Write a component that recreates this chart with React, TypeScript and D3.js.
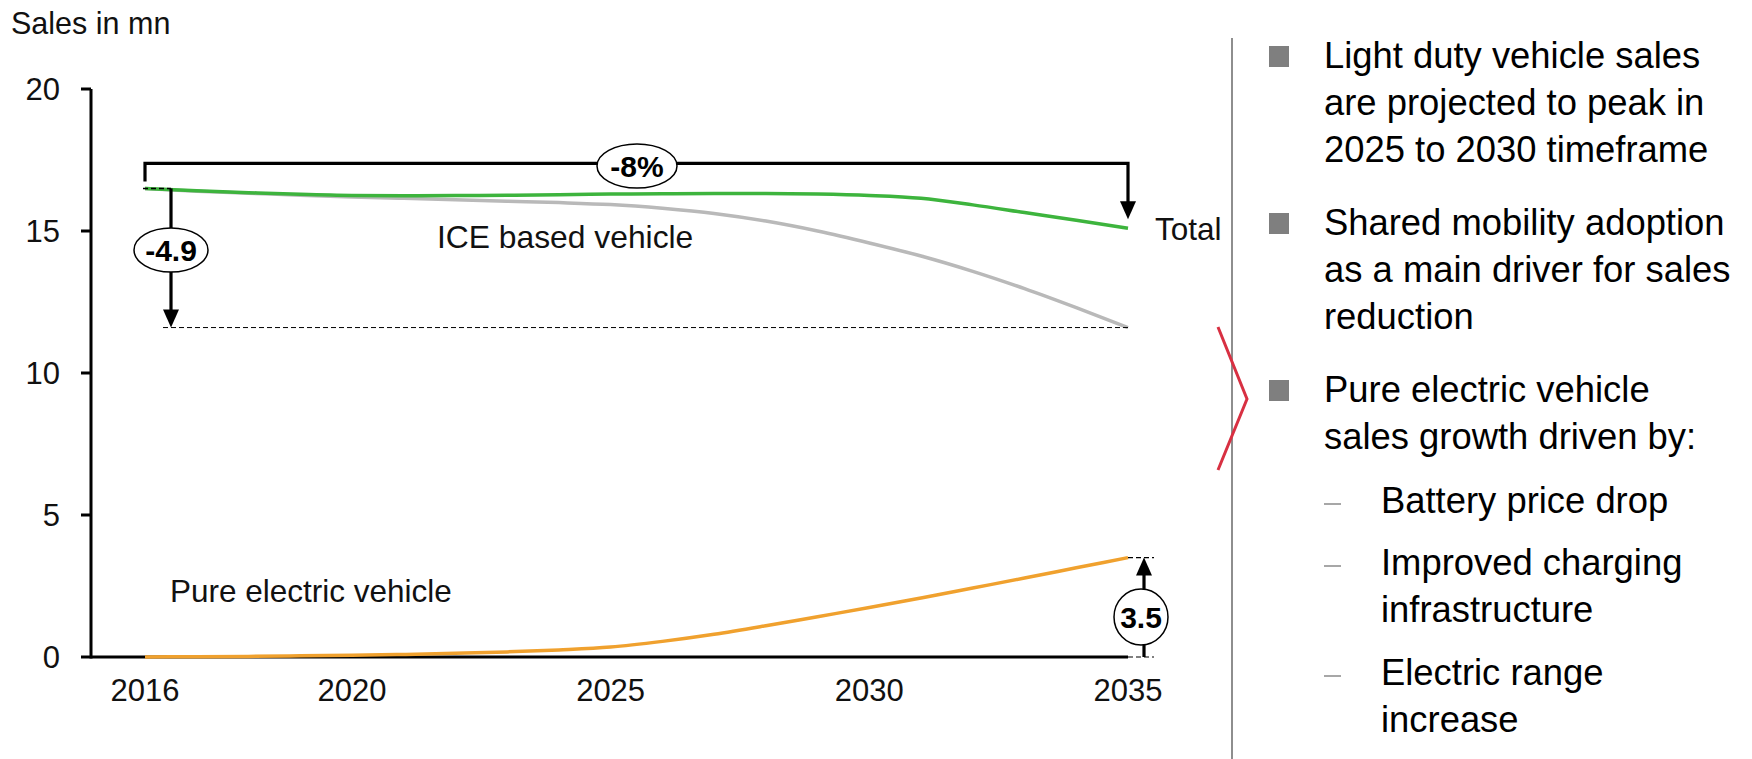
import React from "react";
import * as d3 from "d3";

// ---- data ----
const years = [2016, 2017, 2018, 2019, 2020, 2021, 2022, 2023, 2024, 2025, 2026, 2027, 2028, 2029, 2030, 2031, 2032, 2033, 2034, 2035];
const totalSales = [16.5, 16.42, 16.35, 16.29, 16.25, 16.24, 16.25, 16.26, 16.28, 16.3, 16.31, 16.32, 16.32, 16.3, 16.25, 16.15, 15.92, 15.65, 15.38, 15.1];
const iceSales = [16.5, 16.4, 16.33, 16.26, 16.2, 16.15, 16.1, 16.05, 16.0, 15.93, 15.8, 15.62, 15.35, 15.0, 14.58, 14.12, 13.58, 12.97, 12.3, 11.6];
const bevSales = [0, 0.01, 0.02, 0.04, 0.06, 0.09, 0.13, 0.18, 0.25, 0.35, 0.55, 0.8, 1.1, 1.42, 1.74, 2.08, 2.43, 2.78, 3.14, 3.5];

const xTickYears = [2016, 2020, 2025, 2030, 2035];
const yTickValues = [0, 5, 10, 15, 20];

const yAxisTitle = "Sales in mn";
const seriesLabels = ["Total", "ICE based vehicle", "Pure electric vehicle"];
const annotationLabels = ["-8%", "-4.9", "3.5"];

const bullets = [
  ["Light duty vehicle sales", "are projected to peak in", "2025 to 2030 timeframe"],
  ["Shared mobility adoption", "as a main driver for sales", "reduction"],
  ["Pure electric vehicle", "sales growth driven by:"],
];
const subBullets = [
  ["Battery price drop"],
  ["Improved charging", "infrastructure"],
  ["Electric range", "increase"],
];

const FONT = "'Liberation Sans', Arial, Helvetica, sans-serif";
const GREEN = "#3db43d";
const GRAY = "#b9b9b9";
const ORANGE = "#f0a12e";

export default function App() {
  const x = d3.scaleLinear().domain([2016, 2035]).range([145, 1128]);
  const y = d3.scaleLinear().domain([0, 20]).range([657, 89]);
  const axisX = 91;

  const mk = (vals: number[]) =>
    d3
      .line<number>()
      .x((_, i) => x(years[i]))
      .y((d) => y(d))
      .curve(d3.curveMonotoneX)(vals) as string;

  const last = years.length - 1;
  const x0 = x(years[0]);
  const xN = x(years[last]);

  // -8% bracket
  const bracketY = y(totalSales[0]) - 25;
  const totalTip = y(totalSales[last]) - 9;
  // -4.9 arrow
  const dropX = x0 + 26;
  const dropTop = y(iceSales[0]);
  const dropTip = y(iceSales[last]);
  // 3.5 arrow
  const bevX = xN + 16;
  const bevTip = y(bevSales[last]);
  const bevBase = y(0);

  const arrowDown = (cx: number, tipY: number) =>
    `M${cx - 8},${tipY - 18} L${cx + 8},${tipY - 18} L${cx},${tipY} Z`;
  const arrowUp = (cx: number, tipY: number) =>
    `M${cx - 8},${tipY + 18} L${cx + 8},${tipY + 18} L${cx},${tipY} Z`;

  const bulletTop = [68, 235, 402];
  const lineH = 47;
  const subTop = [513, 575, 685];

  return (
    <svg
      width={1752}
      height={759}
      style={{ position: "absolute", left: 0, top: 0, background: "#fff" }}
      fontFamily={FONT}
    >
      <rect x={0} y={0} width={1752} height={759} fill="#fff" />

      {/* y axis title */}
      <text x={11} y={34} fontSize={30.5} fill="#111">
        {yAxisTitle}
      </text>

      {/* y axis */}
      <line x1={axisX} x2={axisX} y1={y(20)} y2={y(0) + 1.5} stroke="#000" strokeWidth={3} />
      {yTickValues.map((v) => (
        <g key={v}>
          <line x1={axisX - 10} x2={axisX} y1={y(v)} y2={y(v)} stroke="#000" strokeWidth={3} />
          <text x={60} y={y(v)} dy="0.36em" textAnchor="end" fontSize={31} fill="#111">
            {v}
          </text>
        </g>
      ))}
      {/* x axis */}
      <line x1={axisX} x2={xN} y1={y(0)} y2={y(0)} stroke="#000" strokeWidth={3} />
      {xTickYears.map((yr) => (
        <text key={yr} x={x(yr)} y={701} textAnchor="middle" fontSize={31} fill="#111">
          {yr}
        </text>
      ))}

      {/* series */}
      <path d={mk(iceSales)} fill="none" stroke={GRAY} strokeWidth={3.5} />
      <path d={mk(totalSales)} fill="none" stroke={GREEN} strokeWidth={3.5} />
      <path d={mk(bevSales)} fill="none" stroke={ORANGE} strokeWidth={3.5} />

      {/* series labels */}
      <text x={1155} y={240} fontSize={31.5} fill="#111">
        {seriesLabels[0]}
      </text>
      <text x={437} y={248} fontSize={31.8} fill="#111">
        {seriesLabels[1]}
      </text>
      <text x={170} y={602} fontSize={31.5} fill="#111">
        {seriesLabels[2]}
      </text>

      {/* -8% bracket */}
      <path
        d={`M${x0},${bracketY + 18} V${bracketY} H${xN} V${totalTip - 16}`}
        fill="none"
        stroke="#000"
        strokeWidth={3.2}
      />
      <path d={arrowDown(xN, totalTip)} fill="#000" />
      <ellipse cx={637} cy={166} rx={40} ry={22} fill="#fff" stroke="#000" strokeWidth={1.5} />
      <text x={637} y={166} dy="0.36em" textAnchor="middle" fontSize={30} fontWeight="bold" fill="#000">
        {annotationLabels[0]}
      </text>

      {/* -4.9 drop */}
      <line x1={x0 - 2} x2={dropX} y1={dropTop} y2={dropTop} stroke="#000" strokeWidth={1.5} strokeDasharray="5,3" />
      <line x1={163} x2={xN} y1={dropTip} y2={dropTip} stroke="#000" strokeWidth={1} strokeDasharray="5,3" />
      <line x1={dropX} x2={dropX} y1={dropTop} y2={dropTip - 16} stroke="#000" strokeWidth={3.2} />
      <path d={arrowDown(dropX, dropTip)} fill="#000" />
      <ellipse cx={dropX} cy={250} rx={37} ry={22} fill="#fff" stroke="#000" strokeWidth={1.5} />
      <text x={dropX} y={250} dy="0.36em" textAnchor="middle" fontSize={30} fontWeight="bold" fill="#000">
        {annotationLabels[1]}
      </text>

      {/* 3.5 rise */}
      <line x1={xN} x2={bevX + 10} y1={bevTip} y2={bevTip} stroke="#000" strokeWidth={1.2} strokeDasharray="5,3" />
      <line x1={xN} x2={bevX + 10} y1={bevBase} y2={bevBase} stroke="#000" strokeWidth={1.2} strokeDasharray="5,3" />
      <line x1={bevX} x2={bevX} y1={bevBase} y2={bevTip + 16} stroke="#000" strokeWidth={3.2} />
      <path d={arrowUp(bevX, bevTip)} fill="#000" />
      <ellipse cx={bevX - 3} cy={617} rx={27} ry={28} fill="#fff" stroke="#000" strokeWidth={1.5} />
      <text x={bevX - 3} y={617} dy="0.36em" textAnchor="middle" fontSize={30} fontWeight="bold" fill="#000">
        {annotationLabels[2]}
      </text>

      {/* separator + chevron */}
      <line x1={1232} x2={1232} y1={38} y2={759} stroke="#8e8e8e" strokeWidth={2} />
      <polyline points="1218,327 1247,399 1218,470" fill="none" stroke="#d83042" strokeWidth={3} />

      {/* bullets */}
      {bullets.map((lines, bi) => (
        <g key={bi}>
          <rect x={1269} y={bulletTop[bi] - 22} width={20} height={21} fill="#7f7f7f" />
          {lines.map((ln, li) => (
            <text key={li} x={1324} y={bulletTop[bi] + li * lineH} fontSize={36.4} fill="#000">
              {ln}
            </text>
          ))}
        </g>
      ))}
      {subBullets.map((lines, si) => (
        <g key={si}>
          <line x1={1324} x2={1341} y1={subTop[si] - 9} y2={subTop[si] - 9} stroke="#8a8a8a" strokeWidth={1.5} />
          {lines.map((ln, li) => (
            <text key={li} x={1381} y={subTop[si] + li * lineH} fontSize={36.4} fill="#000">
              {ln}
            </text>
          ))}
        </g>
      ))}
    </svg>
  );
}
